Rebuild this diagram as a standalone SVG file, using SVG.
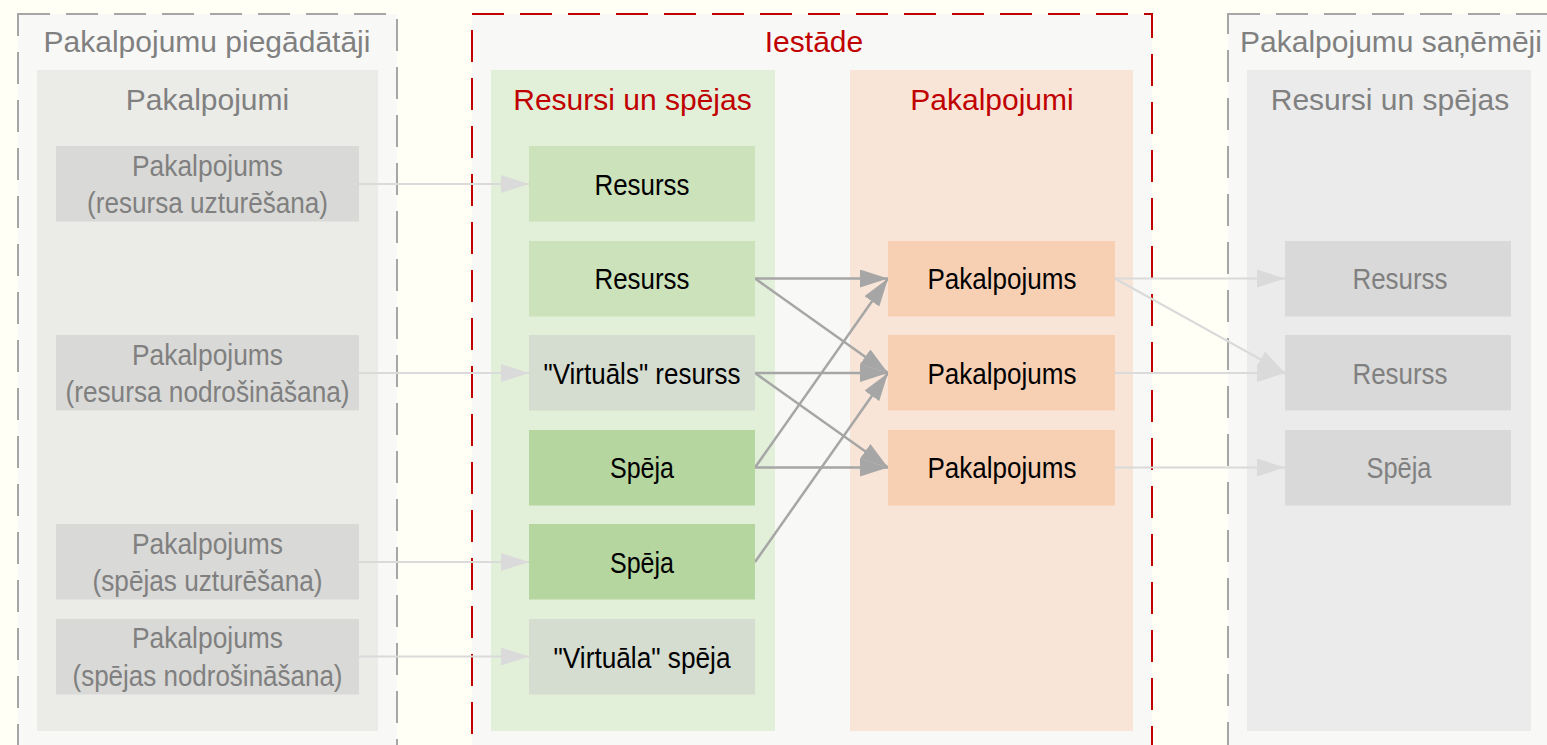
<svg xmlns="http://www.w3.org/2000/svg" width="1547" height="745" viewBox="0 0 1547 745">
<style>
text{font-family:"Liberation Sans",Arial,sans-serif;text-anchor:middle}
.title{font-size:30px}
.gt{fill:#808080}
.rt{fill:#c00000}
.nt{font-size:29px;fill:#000}
.ngt{font-size:29px;fill:#808080}
.outer{fill:#f8f8f6;stroke:#a6a6a6;stroke-width:2;stroke-dasharray:32 16}
.red{fill:#f8f8f6;stroke:#c00000;stroke-width:2;stroke-dasharray:32 16}
.lgn{fill:#d9d9d7}
.rgn{fill:#d9d9d9}
.g1{fill:#cce2ba}
.g2{fill:#b6d6a0}
.gv{fill:#d5dcd0}
.on{fill:#f7d0b4}
.le{fill:none;stroke:#dadada;stroke-width:2.2}
.de{fill:none;stroke:#a6a6a6;stroke-width:2.5}
</style>
<defs>
<marker id="al" markerUnits="userSpaceOnUse" markerWidth="28" markerHeight="18" refX="28" refY="9" orient="auto"><path d="M0,0 L28,9 L0,18 z" fill="#dadada"/></marker>
<marker id="ad" markerUnits="userSpaceOnUse" markerWidth="28" markerHeight="18" refX="28" refY="9" orient="auto"><path d="M0,0 L28,9 L0,18 z" fill="#a6a6a6"/></marker>
</defs>
<rect x="0" y="0" width="1547" height="745" fill="#fffff5"/>

<g id="cluster-providers">
<rect class="outer" x="18" y="14" width="379" height="760"/>
<text class="title gt" x="207" y="52">Pakalpojumu piegādātāji</text>
<rect x="37" y="70" width="341" height="661" fill="#ebebe8"/>
<text class="title gt" x="207.5" y="110">Pakalpojumi</text>
</g>

<g id="cluster-iestade">
<rect class="red" x="472" y="14" width="680" height="760"/>
<text class="title rt" x="814" y="52">Iestāde</text>
<rect x="491" y="70" width="284" height="661" fill="#e2efd9"/>
<text class="title rt" x="632.5" y="110">Resursi un spējas</text>
<rect x="850" y="70" width="283" height="661" fill="#f8e5d8"/>
<text class="title rt" x="992" y="110">Pakalpojumi</text>
</g>

<g id="cluster-receivers">
<rect class="outer" x="1228" y="14" width="330" height="760"/>
<text class="title gt" x="1391" y="52">Pakalpojumu saņēmēji</text>
<rect x="1247" y="70" width="284" height="661" fill="#ebebeb"/>
<text class="title gt" x="1390" y="110">Resursi un spējas</text>
</g>

<g id="edges">
<path class="le" d="M359,184 L529,184" marker-end="url(#al)"/>
<path class="le" d="M359,373 L529,373" marker-end="url(#al)"/>
<path class="le" d="M359,562 L529,562" marker-end="url(#al)"/>
<path class="le" d="M359,656.5 L529,656.5" marker-end="url(#al)"/>
<path class="de" d="M755,278.5 L888,278.5" marker-end="url(#ad)"/>
<path class="de" d="M755,278.5 L888,373" marker-end="url(#ad)"/>
<path class="de" d="M755,373 L888,373" marker-end="url(#ad)"/>
<path class="de" d="M755,373 L888,467.5" marker-end="url(#ad)"/>
<path class="de" d="M755,467.5 L888,467.5" marker-end="url(#ad)"/>
<path class="de" d="M755,467.5 L888,278.5" marker-end="url(#ad)"/>
<path class="de" d="M755,562 L888,373" marker-end="url(#ad)"/>
<path class="le" d="M1115,278.5 L1285,278.5" marker-end="url(#al)"/>
<path class="le" d="M1115,278.5 L1285,373" marker-end="url(#al)"/>
<path class="le" d="M1115,373 L1285,373" marker-end="url(#al)"/>
<path class="le" d="M1115,467.5 L1285,467.5" marker-end="url(#al)"/>
</g>

<g id="p1"><rect class="lgn" x="56" y="146" width="303" height="75.5"/>
<text class="ngt" x="207.5" y="175.5" textLength="151" lengthAdjust="spacingAndGlyphs">Pakalpojums</text>
<text class="ngt" x="207.5" y="213" textLength="241" lengthAdjust="spacingAndGlyphs">(resursa uzturēšana)</text></g>
<g id="p2"><rect class="lgn" x="56" y="335" width="303" height="75.5"/>
<text class="ngt" x="207.5" y="364.5" textLength="151" lengthAdjust="spacingAndGlyphs">Pakalpojums</text>
<text class="ngt" x="207.5" y="402" textLength="284" lengthAdjust="spacingAndGlyphs">(resursa nodrošināšana)</text></g>
<g id="p3"><rect class="lgn" x="56" y="524" width="303" height="75.5"/>
<text class="ngt" x="207.5" y="553.5" textLength="151" lengthAdjust="spacingAndGlyphs">Pakalpojums</text>
<text class="ngt" x="207.5" y="591" textLength="230" lengthAdjust="spacingAndGlyphs">(spējas uzturēšana)</text></g>
<g id="p4"><rect class="lgn" x="56" y="619" width="303" height="75.5"/>
<text class="ngt" x="207.5" y="648" textLength="151" lengthAdjust="spacingAndGlyphs">Pakalpojums</text>
<text class="ngt" x="207.5" y="685.5" textLength="270" lengthAdjust="spacingAndGlyphs">(spējas nodrošināšana)</text></g>

<g id="r1"><rect class="g1" x="529" y="146" width="226" height="75.5"/>
<text class="nt" x="642" y="194.5" textLength="95" lengthAdjust="spacingAndGlyphs">Resurss</text></g>
<g id="r2"><rect class="g1" x="529" y="241" width="226" height="75.5"/>
<text class="nt" x="642" y="289" textLength="95" lengthAdjust="spacingAndGlyphs">Resurss</text></g>
<g id="vr"><rect class="gv" x="529" y="335" width="226" height="75.5"/>
<text class="nt" x="642" y="383.5" textLength="197" lengthAdjust="spacingAndGlyphs">"Virtuāls" resurss</text></g>
<g id="s1"><rect class="g2" x="529" y="430" width="226" height="75.5"/>
<text class="nt" x="642" y="478" textLength="64" lengthAdjust="spacingAndGlyphs">Spēja</text></g>
<g id="s2"><rect class="g2" x="529" y="524" width="226" height="75.5"/>
<text class="nt" x="642" y="572.5" textLength="64" lengthAdjust="spacingAndGlyphs">Spēja</text></g>
<g id="vs"><rect class="gv" x="529" y="619" width="226" height="75.5"/>
<text class="nt" x="642" y="667.5" textLength="177" lengthAdjust="spacingAndGlyphs">"Virtuāla" spēja</text></g>

<g id="o1"><rect class="on" x="888" y="241" width="227" height="75.5"/>
<text class="nt" x="1002" y="289" textLength="149" lengthAdjust="spacingAndGlyphs">Pakalpojums</text></g>
<g id="o2"><rect class="on" x="888" y="335" width="227" height="75.5"/>
<text class="nt" x="1002" y="383.5" textLength="149" lengthAdjust="spacingAndGlyphs">Pakalpojums</text></g>
<g id="o3"><rect class="on" x="888" y="430" width="227" height="75.5"/>
<text class="nt" x="1002" y="478" textLength="149" lengthAdjust="spacingAndGlyphs">Pakalpojums</text></g>

<g id="t1"><rect class="rgn" x="1285" y="241" width="226" height="75.5"/>
<text class="ngt" x="1400" y="289" textLength="95" lengthAdjust="spacingAndGlyphs">Resurss</text></g>
<g id="t2"><rect class="rgn" x="1285" y="335" width="226" height="75.5"/>
<text class="ngt" x="1400" y="383.5" textLength="95" lengthAdjust="spacingAndGlyphs">Resurss</text></g>
<g id="t3"><rect class="rgn" x="1285" y="430" width="226" height="75.5"/>
<text class="ngt" x="1399" y="478" textLength="65" lengthAdjust="spacingAndGlyphs">Spēja</text></g>
</svg>
